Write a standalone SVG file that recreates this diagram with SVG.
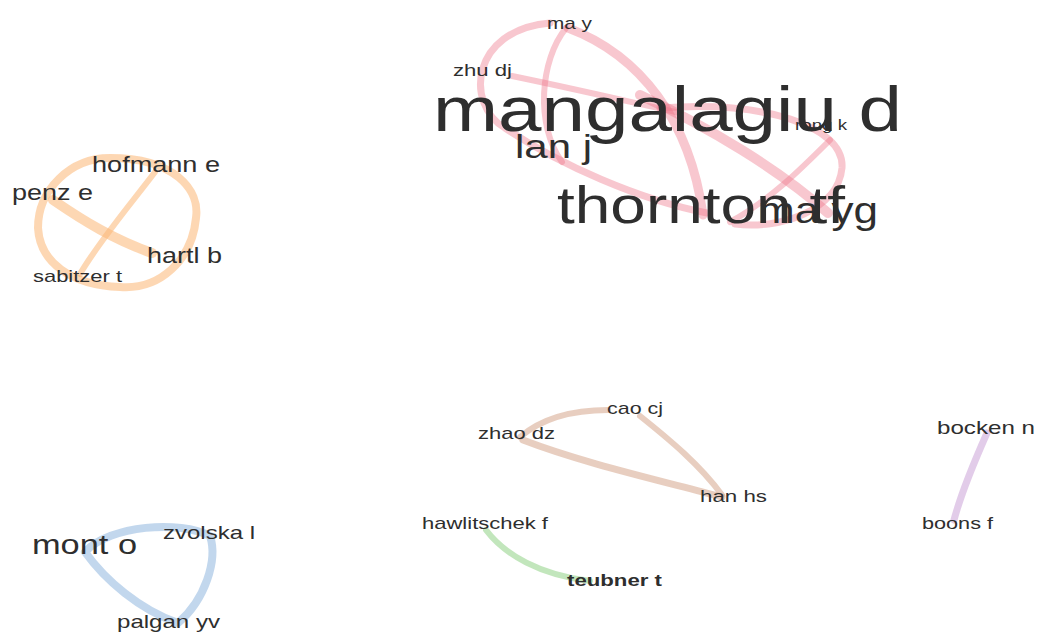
<svg xmlns="http://www.w3.org/2000/svg" width="1037" height="633" viewBox="0 0 1037 633">
<style>
text{font-family:"Liberation Sans",Arial,sans-serif;fill:#2e2e2e;}
.e{fill:none;stroke-linecap:round;}
.red{stroke:#ee7488;stroke-opacity:0.4;}
.org{stroke:#fbb674;stroke-opacity:0.55;}
.brn{stroke:#d9ae96;stroke-opacity:0.6;}
.grn{stroke:#a8dca0;stroke-opacity:0.7;}
.blu{stroke:#a8c6e6;stroke-opacity:0.7;}
.pur{stroke:#d6b6e0;stroke-opacity:0.7;}
</style>
<rect width="1037" height="633" fill="#ffffff"/>
<g id="connectors">
  <path class="e red" stroke-width="7" d="M 550,23 C 470,30 465,105 505,128 C 560,165 640,200 707,213"/>
  <path class="e red" stroke-width="6" d="M 566,28 C 540,60 535,125 562,162"/>
  <path class="e red" stroke-width="9" d="M 568,28 C 640,55 690,120 703,215"/>
  <path class="e red" stroke-width="10" d="M 640,95 C 710,128 780,170 828,213"/>
  <path class="e red" stroke-width="6" d="M 512,76 C 580,90 630,102 680,113"/>
  <path class="e red" stroke-width="7" d="M 660,108 C 760,100 845,125 842,168 C 838,210 780,230 735,224"/>
  <path class="e red" stroke-width="6" d="M 830,140 C 800,170 770,200 730,222"/>
  <path class="e org" stroke-width="8" d="M 110,158 C 175,158 200,190 196,218 C 192,260 160,290 120,287 C 70,285 40,262 38,228 C 38,190 70,158 110,158"/>
  <path class="e org" stroke-width="10" d="M 53,200 C 85,222 115,240 152,253"/>
  <path class="e org" stroke-width="6" d="M 155,172 C 130,205 100,240 80,274"/>
  <path class="e brn" stroke-width="6" d="M 520,437 C 540,420 570,410 608,410"/>
  <path class="e brn" stroke-width="6" d="M 640,416 C 670,440 700,465 722,495"/>
  <path class="e brn" stroke-width="7" d="M 523,440 C 580,462 650,478 722,497"/>
  <path class="e grn" stroke-width="6" d="M 486,530 C 505,555 540,575 590,581"/>
  <path class="e blu" stroke-width="8" d="M 85,552 C 110,525 180,520 210,536 C 218,560 205,600 178,623 C 140,610 105,580 85,552"/>
  <path class="e pur" stroke-width="7" d="M 987,433 C 975,460 962,490 954,520"/>
</g>
<g id="node-ma-y"><text x="547" y="29" font-size="17" textLength="45" lengthAdjust="spacingAndGlyphs">ma y</text></g>
<g id="node-zhu-dj"><text x="453" y="76" font-size="16" textLength="59" lengthAdjust="spacingAndGlyphs">zhu dj</text></g>
<g id="node-mangalagiu-d"><text x="433" y="131" font-size="63" textLength="469" lengthAdjust="spacingAndGlyphs">mangalagiu d</text></g>
<g id="node-rong-k"><text x="795" y="130" font-size="15" textLength="52" lengthAdjust="spacingAndGlyphs">rong k</text></g>
<g id="node-lan-j"><text x="515" y="158" font-size="34" textLength="77" lengthAdjust="spacingAndGlyphs">lan j</text></g>
<g id="node-thornton-tf"><text x="557" y="223" font-size="52" textLength="288" lengthAdjust="spacingAndGlyphs">thornton tf</text></g>
<g id="node-ma-yg"><text x="758" y="223" font-size="36" textLength="120" lengthAdjust="spacingAndGlyphs">ma yg</text></g>
<g id="node-hofmann-e"><text x="92" y="172" font-size="22" textLength="128" lengthAdjust="spacingAndGlyphs">hofmann e</text></g>
<g id="node-penz-e"><text x="12" y="200" font-size="22" textLength="81" lengthAdjust="spacingAndGlyphs">penz e</text></g>
<g id="node-hartl-b"><text x="147" y="263" font-size="22" textLength="75" lengthAdjust="spacingAndGlyphs">hartl b</text></g>
<g id="node-sabitzer-t"><text x="33" y="282" font-size="17" textLength="89" lengthAdjust="spacingAndGlyphs">sabitzer t</text></g>
<g id="node-cao-cj"><text x="607" y="414" font-size="17" textLength="56" lengthAdjust="spacingAndGlyphs">cao cj</text></g>
<g id="node-zhao-dz"><text x="478" y="439" font-size="17" textLength="77" lengthAdjust="spacingAndGlyphs">zhao dz</text></g>
<g id="node-han-hs"><text x="700" y="502" font-size="17" textLength="67" lengthAdjust="spacingAndGlyphs">han hs</text></g>
<g id="node-hawlitschek-f"><text x="422" y="529" font-size="17" textLength="126" lengthAdjust="spacingAndGlyphs">hawlitschek f</text></g>
<g id="node-teubner-t"><text x="567" y="586" font-size="17" font-weight="bold" textLength="95" lengthAdjust="spacingAndGlyphs">teubner t</text></g>
<g id="node-bocken-n"><text x="937" y="434" font-size="19" textLength="98" lengthAdjust="spacingAndGlyphs">bocken n</text></g>
<g id="node-boons-f"><text x="922" y="529" font-size="17" textLength="71" lengthAdjust="spacingAndGlyphs">boons f</text></g>
<g id="node-mont-o"><text x="32" y="554" font-size="27" textLength="105" lengthAdjust="spacingAndGlyphs">mont o</text></g>
<g id="node-zvolska-l"><text x="163" y="539" font-size="19" textLength="92" lengthAdjust="spacingAndGlyphs">zvolska l</text></g>
<g id="node-palgan-yv"><text x="117" y="628" font-size="19" textLength="103" lengthAdjust="spacingAndGlyphs">palgan yv</text></g>
</svg>
